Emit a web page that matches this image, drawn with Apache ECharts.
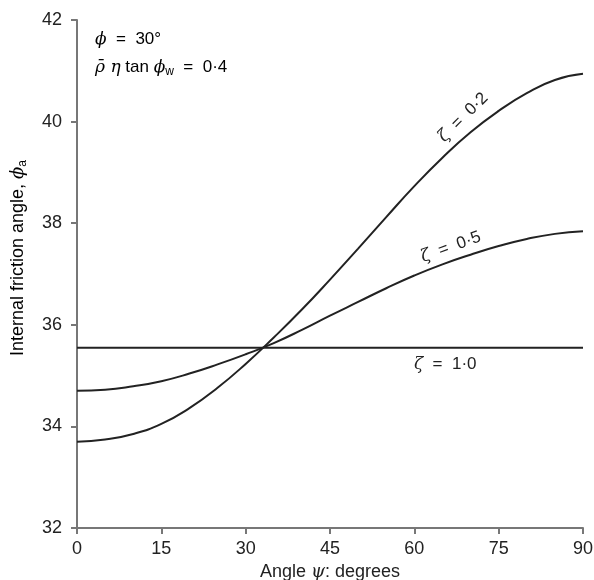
<!DOCTYPE html>
<html>
<head>
<meta charset="utf-8">
<script src="https://cdn.jsdelivr.net/npm/echarts@6/dist/echarts.min.js"></script>
<style>
  html, body { margin: 0; padding: 0; background: #fff; }
  #chart { width: 594px; height: 580px; }
</style>
</head>
<body>
<div id="chart"></div>
<script>
// angle psi (degrees)
var angles = [0, 5, 10, 15, 20, 25, 30, 35, 40, 45, 50, 55, 60, 65, 70, 75, 80, 85, 90];
// internal friction angle for each zeta
var zeta02 = [33.70, 33.74, 33.85, 34.05, 34.36, 34.76, 35.23, 35.75, 36.30, 36.89, 37.50, 38.12, 38.73, 39.29, 39.79, 40.21, 40.56, 40.82, 40.94];
var zeta05 = [34.70, 34.72, 34.79, 34.89, 35.04, 35.22, 35.42, 35.64, 35.90, 36.18, 36.45, 36.72, 36.97, 37.19, 37.38, 37.55, 37.69, 37.79, 37.84];
var zeta10 = [35.55, 35.55, 35.55, 35.55, 35.55, 35.55, 35.55, 35.55, 35.55, 35.55, 35.55, 35.55, 35.55, 35.55, 35.55, 35.55, 35.55, 35.55, 35.55];
var xTicks = [0, 15, 30, 45, 60, 75, 90];
var yTicks = [32, 34, 36, 38, 40, 42];

var font = '"Liberation Sans", Arial, sans-serif';
var greek = '"DejaVu Serif", serif';
var ink = '#222';

function pairs(ys){
	return angles.map(function(a, i){ return [a, ys[i]]; });
}

var richBase = {
	i: { fontStyle: 'italic', fontFamily: greek, fontSize: 17, color: ink },
	t: { fontSize: 17, fontFamily: font, color: ink },
	s: { fontSize: 12, fontFamily: font, color: ink, padding: [9, 0, 0, 0] }
};

function curveLabel(coord, text, rot){
	return {
		coord: coord,
		symbol: 'circle',
		symbolSize: 1,
		itemStyle: { color: 'rgba(0,0,0,0)' },
		label: {
			show: true,
			formatter: text,
			rotate: rot,
			position: 'inside',
			rich: richBase
		}
	};
}

var chart = echarts.init(document.getElementById('chart'));

var option = {
	backgroundColor: '#fff',
	animation: false,
	textStyle: { fontFamily: font },
	grid: { left: 77, right: 11, top: 20, bottom: 52, containLabel: false, outerBoundsMode: 'none' },
	xAxis: {
		type: 'value',
		min: xTicks[0],
		max: xTicks[xTicks.length - 1],
		interval: 15,
		name: 'Angle {i|ψ}: degrees',
		nameLocation: 'middle',
		nameGap: 32,
		nameTextStyle: {
			fontSize: 18, color: ink, fontFamily: font,
			rich: { i: { fontStyle: 'italic', fontFamily: greek, fontSize: 18, color: ink } }
		},
		axisLine: { lineStyle: { color: '#777', width: 2 } },
		axisTick: { show: true, length: 6, lineStyle: { color: '#777', width: 2 } },
		axisLabel: { fontSize: 18, color: ink, margin: 12 },
		splitLine: { show: false }
	},
	yAxis: {
		type: 'value',
		min: yTicks[0],
		max: yTicks[yTicks.length - 1],
		interval: 2,
		axisLine: { show: true, lineStyle: { color: '#777', width: 2 } },
		axisTick: { show: true, length: 6, lineStyle: { color: '#777', width: 2 } },
		axisLabel: { fontSize: 18, color: ink, margin: 15 },
		splitLine: { show: false }
	},
	series: [
		{
			name: 'zeta 0.2', type: 'line', smooth: true, symbol: 'none',
			lineStyle: { color: ink, width: 2 },
			data: pairs(zeta02),
			markPoint: { data: [curveLabel([68.7, 40.08], '{i|ζ}{t|  =  0·2}', 45)] }
		},
		{
			name: 'zeta 0.5', type: 'line', smooth: true, symbol: 'none',
			lineStyle: { color: ink, width: 2 },
			data: pairs(zeta05),
			markPoint: { data: [curveLabel([66.5, 37.53], '{i|ζ}{t|  =  0·5}', 20)] }
		},
		{
			name: 'zeta 1.0', type: 'line', symbol: 'none',
			lineStyle: { color: ink, width: 2 },
			data: pairs(zeta10),
			markPoint: { data: [curveLabel([65.5, 35.22], '{i|ζ}{t|  =  1·0}', 0)] }
		}
	],
	graphic: [
		{
			type: 'text', left: 95, top: 31,
			style: {
				text: '{i|ϕ}{t|  =  30°}',
				rich: richBase
			}
		},
		{
			type: 'text', left: 95, top: 59,
			style: {
				text: '{i|ρ̄ η}{t| tan }{i|ϕ}{s|w}{t|  =  0·4}',
				rich: richBase
			}
		},
		{
			type: 'text', x: 18, y: 258, rotation: Math.PI / 2,
			style: {
				text: '{t|Internal friction angle, }{i|ϕ}{s|a}',
				align: 'center',
				verticalAlign: 'middle',
				rich: {
					t: { fontSize: 18, fontFamily: font, color: ink },
					i: { fontStyle: 'italic', fontFamily: greek, fontSize: 18, color: ink },
					s: { fontSize: 12, fontFamily: font, color: ink, padding: [9, 0, 0, 0] }
				}
			}
		}
	]
};

chart.setOption(option);
</script>
</body>
</html>
